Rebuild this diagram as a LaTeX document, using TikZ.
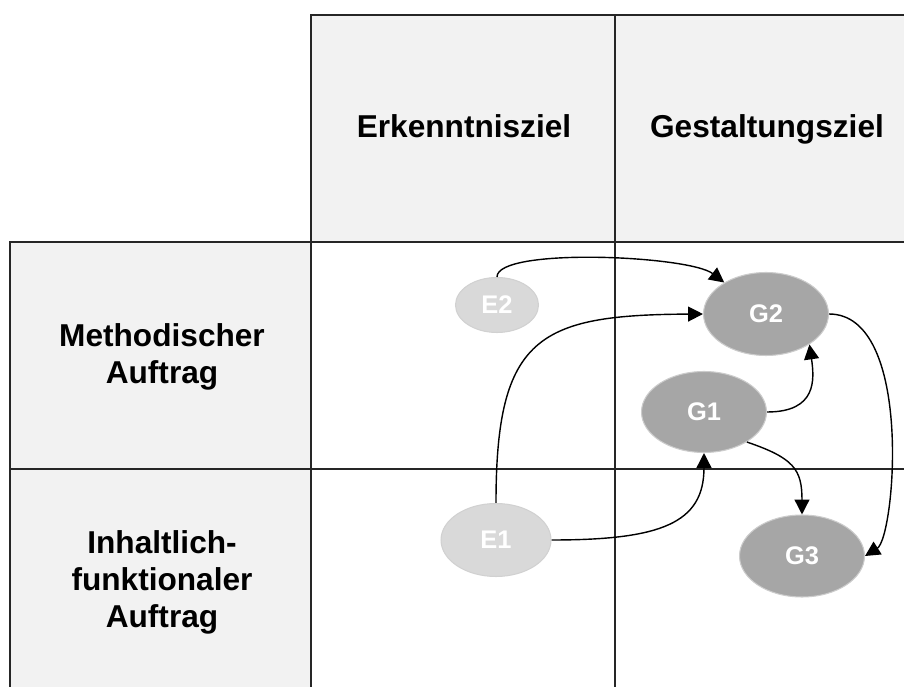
\documentclass[tikz,border=0pt]{standalone}
\usepackage{fontspec}
\setmainfont{Liberation Sans}
\usetikzlibrary{shapes.geometric,arrows.meta}
\definecolor{cellgray}{HTML}{F2F2F2}
\definecolor{lightgoal}{HTML}{D9D9D9}
\definecolor{darkgoal}{HTML}{A6A6A6}

\begin{document}
\begin{tikzpicture}[x=0.02cm,y=0.02cm,
    gridline/.style={line width=0.8pt,black!85},
    head/.style={font=\fontsize{18}{21}\selectfont\bfseries,align=center},
    goal/.style={ellipse,inner sep=0pt,line width=0.6pt,text=white,
      font=\fontsize{14.5}{17}\selectfont\bfseries},
    egoal/.style={goal,fill=lightgoal,draw=black!18},
    ggoal/.style={goal,fill=darkgoal,draw=black!20,
      minimum width=2.5cm,minimum height=1.66cm},
    link/.style={-{Triangle[length=8.5pt,width=8.5pt]},line width=0.8pt}]
\useasboundingbox (0,0) rectangle (904,687);

\fill[cellgray] (311,445) rectangle (904,672);
\fill[cellgray] ( 10,  0) rectangle (311,445);

\draw[gridline] (311,  0) -- (311,672) -- (904,672);
\draw[gridline] (615,  0) -- (615,672);
\draw[gridline] ( 10,  0) -- ( 10,445) -- (904,445);
\draw[gridline] ( 10,218) -- (904,218);

\node[head,anchor=base] (erk)  at (464,549) {Erkenntnisziel};
\node[head,anchor=base] (gest) at (767,549) {Gestaltungsziel};
\node[head] (meth) at (162,330) {Methodischer\\Auftrag};
\node[head] (inh)  at (162,105) {Inhaltlich-\\funktionaler\\Auftrag};

\node[egoal,minimum width=1.66cm,minimum height=1.1cm]  (E2) at (497,382) {E2};
\node[egoal,minimum width=2.2cm, minimum height=1.46cm] (E1) at (496,147) {E1};
\node[ggoal]                       (G2) at (766,373) {G2};
\node[ggoal,minimum height=1.62cm] (G1) at (704,275) {G1};
\node[ggoal,minimum height=1.64cm] (G3) at (802,131) {G3};

\draw[link] (E2.north) .. controls +(0,30)   and +(-35,27) .. (G2.143);
\draw[link] (E1.north) .. controls +(0,167)  and +(-164,-1) .. (G2.west);
\draw[link] (G1.east)  .. controls +(50,0)   and +(5,-35)  .. (G2.-35);
\draw[link] (E1.east)  .. controls +(110,0)  and +(0,-70)  .. (G1.south);
\draw[link] (G1.-35)   .. controls +(47,-16) and +(0,45)   .. (G3.north);
\draw[link] (G2.east)  .. controls +(85,0)   and +(30,19)  .. (G3.east);
\end{tikzpicture}
\end{document}
